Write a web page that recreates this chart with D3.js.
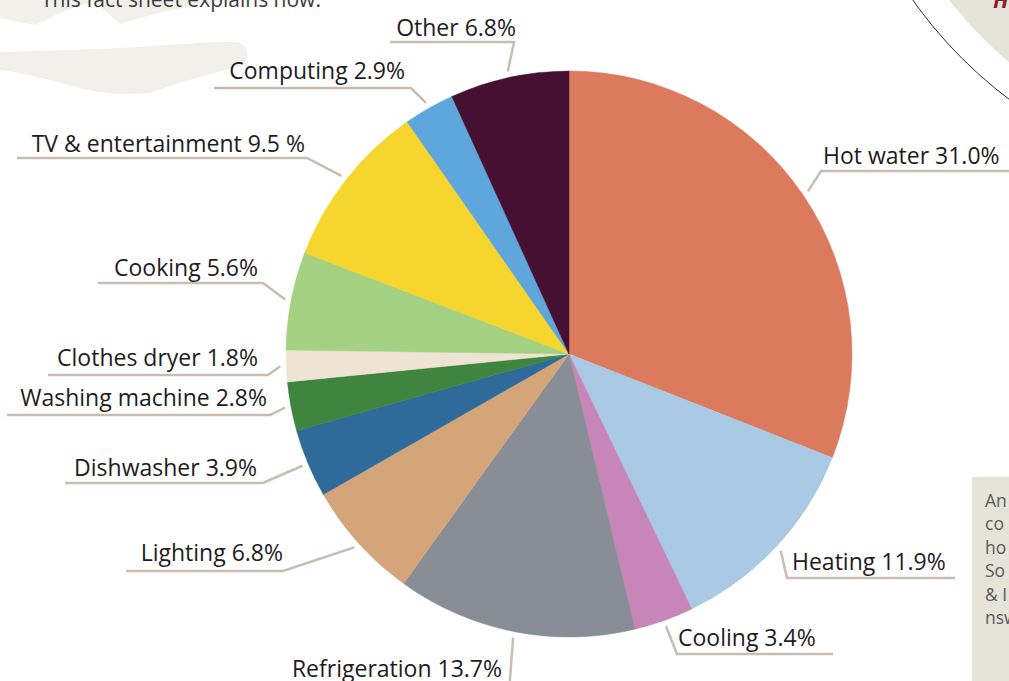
<!DOCTYPE html>
<html>
<head>
<meta charset="utf-8">
<script src="https://cdn.jsdelivr.net/npm/d3@7"></script>
<style>
  html, body { margin: 0; padding: 0; background: #ffffff; }
  svg { display: block; }
  text { font-family: "Open Sans", "Noto Sans", sans-serif; }
</style>
</head>
<body>
<div id="chart"></div>
<script>
// ---- data ----
const categories = ["Hot water", "Heating", "Cooling", "Refrigeration", "Lighting", "Dishwasher",
  "Washing machine", "Clothes dryer", "Cooking", "TV & entertainment", "Computing", "Other"];
const values = [31.0, 11.9, 3.4, 13.7, 6.8, 3.9, 2.8, 1.8, 5.6, 9.5, 2.9, 6.8];
const valueLabels = ["31.0%", "11.9%", "3.4%", "13.7%", "6.8%", "3.9%", "2.8%", "1.8%", "5.6%", "9.5 %", "2.9%", "6.8%"];
const colors = ["#dc7a5d", "#aac9e5", "#c886b8", "#898e96", "#d5a57a", "#2e6b9b",
  "#3f843f", "#efe4d3", "#a5d183", "#f5d52e", "#5ea6dc", "#461033"];
const sideNotes = ["An", "co", "ho", "So", "& I", "nsw"];

// ---- layout (leader-line bends and label placement) ----
const labelLayout = [
  { bend: [821, 171], endX: 1012, tx: 823, ty: 164, anchor: "start" },
  { bend: [787, 578], endX: 955, tx: 792, ty: 570, anchor: "start" },
  { bend: [677, 654], endX: 833, tx: 678, ty: 646, anchor: "start" },
  { bend: [509, 692], endX: 290, tx: 502, ty: 677, anchor: "end" },
  { bend: [283, 571], endX: 126, tx: 283, ty: 561, anchor: "end" },
  { bend: [263, 483], endX: 65, tx: 257, ty: 476, anchor: "end" },
  { bend: [270, 415], endX: 7, tx: 267, ty: 406, anchor: "end" },
  { bend: [268, 375], endX: 48, tx: 258, ty: 366, anchor: "end" },
  { bend: [263, 283], endX: 98, tx: 258, ty: 276, anchor: "end" },
  { bend: [307, 158], endX: 17, tx: 305, ty: 152, anchor: "end" },
  { bend: [411, 88], endX: 214, tx: 405, ty: 79, anchor: "end" },
  { bend: [514, 42], endX: 390, tx: 516, ty: 35.5, anchor: "end" }
];

const W = 1009, H = 681;
const cx = 569, cy = 354, R = 283;

const svg = d3.select("#chart").append("svg")
  .attr("width", W).attr("height", H).attr("viewBox", `0 0 ${W} ${H}`);

// ---- background decorations ----
const deco = svg.append("g");
deco.append("path").attr("fill", "#f2f0eb")
  .attr("d", "M0,0 L0,18 C12,21 24,23 36,25 C55,14 80,5 100,0 Z");
deco.append("path").attr("fill", "#f2f0eb")
  .attr("d", "M92,0 C105,10 112,18 121,24 C150,14 190,5 230,0 Z");
deco.append("path").attr("fill", "#f2f0eb")
  .attr("d", "M0,52 C40,51 80,50 120,48 C170,45 205,42 235,42 C250,43 252,62 238,67 C200,76 170,86 150,93 C120,95 100,93 80,88 C50,80 25,73 0,70 Z");

deco.append("text")
  .attr("x", 41).attr("y", 7)
  .attr("font-size", 21).attr("fill", "#3a3a3a")
  .text("This fact sheet explains how.");

// top-right circle
deco.append("circle").attr("cx", 1280).attr("cy", -260).attr("r", 450)
  .attr("fill", "none").attr("stroke", "#2b2b2b").attr("stroke-width", 1);
deco.append("circle").attr("cx", 1280).attr("cy", -260).attr("r", 421)
  .attr("fill", "#e6e3d9");
deco.append("text").attr("x", 993).attr("y", 8)
  .attr("font-size", 22).attr("font-weight", "bold").attr("font-style", "italic")
  .attr("fill", "#8c1b2c").text("H");

// bottom-right note box
deco.append("rect").attr("x", 972).attr("y", 477).attr("width", 40).attr("height", 210)
  .attr("fill", "#e6e3d9");
deco.selectAll("text.note").data(sideNotes).join("text")
  .attr("class", "note")
  .attr("x", 985)
  .attr("y", (d, i) => 507 + i * 23.4)
  .attr("font-size", 17.5).attr("fill", "#5b5b5b")
  .text(d => d);

// ---- pie ----
const pie = d3.pie().sort(null).value(d => d.value);
const data = categories.map((c, i) => ({ name: c, value: values[i], label: valueLabels[i], color: colors[i], layout: labelLayout[i] }));
const arcs = pie(data);
const arc = d3.arc().innerRadius(0).outerRadius(R);
const outer = d3.arc().innerRadius(R + 6).outerRadius(R + 6);

const g = svg.append("g").attr("transform", `translate(${cx},${cy})`);
g.selectAll("path.slice").data(arcs).join("path")
  .attr("class", "slice")
  .attr("d", arc)
  .attr("fill", d => d.data.color)
  .attr("stroke", d => d.data.color)
  .attr("stroke-width", 0.5);

// leader lines
const line = d3.line();
svg.append("g").selectAll("path.leader").data(arcs).join("path")
  .attr("class", "leader")
  .attr("fill", "none")
  .attr("stroke", "#c9bdb2")
  .attr("stroke-width", 2.5)
  .attr("d", d => {
    const c = outer.centroid(d);
    const L = d.data.layout;
    return line([[cx + c[0], cy + c[1]], L.bend, [L.endX, L.bend[1]]]);
  });

// labels
svg.append("g").selectAll("text.lbl").data(arcs).join("text")
  .attr("class", "lbl")
  .attr("x", d => d.data.layout.tx)
  .attr("y", d => d.data.layout.ty)
  .attr("text-anchor", d => d.data.layout.anchor)
  .attr("font-size", 23)
  .attr("fill", "#1f1c1d")
  .text(d => d.data.name + " " + d.data.label);
</script>
</body>
</html>
